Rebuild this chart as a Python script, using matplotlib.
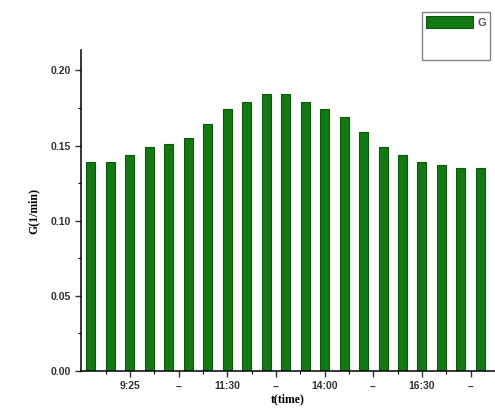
import numpy as np
import matplotlib
matplotlib.use('Agg')
from matplotlib import pyplot as plt
from matplotlib.ticker import MultipleLocator, FormatStrFormatter
from matplotlib.patches import Patch

# valores
G = [0.139, 0.139, 0.144, 0.149, 0.151, 0.155, 0.164, 0.174, 0.179, 0.184, 0.184,
     0.179, 0.174, 0.169, 0.159, 0.149, 0.144, 0.139, 0.137, 0.135, 0.135]
tick_pos = [2, 4.5, 7, 9.5, 12, 14.5, 17, 19.5]
tick_lab = ['9:25', '--', '11:30', '--', '14:00', '--', '16:30', '--']

x = np.arange(len(G))

fig = plt.figure(figsize=(4.95, 4.12), dpi=100)
ax = fig.add_axes([0.164, 0.0995, 0.836, 0.779])
bars = ax.bar(x, G, width=0.46, color='#137a13', edgecolor='#0d560d', linewidth=0.8, label='G')

ax.set_xlim(-0.5, 20.2)
ax.set_ylim(0, 0.2135)
ax.yaxis.set_major_locator(MultipleLocator(0.05))
ax.yaxis.set_minor_locator(MultipleLocator(0.025))
ax.yaxis.set_major_formatter(FormatStrFormatter('%.2f'))
ax.set_xticks(tick_pos)
ax.set_xticklabels(tick_lab)
ax.set_xticks([t - 1.25 for t in tick_pos] + [20.75], minor=True)
ax.tick_params(axis='both', which='major', direction='out', length=4, width=1,
               labelsize=7.5, colors='#333333')
ax.tick_params(axis='both', which='minor', direction='out', length=2.5, width=0.8)
for lab in ax.get_xticklabels() + ax.get_yticklabels():
    lab.set_fontweight('bold')
    lab.set_family('Liberation Sans')

ax.spines['top'].set_visible(False)
ax.spines['right'].set_visible(False)
ax.spines['left'].set_linewidth(1.1)
ax.spines['bottom'].set_linewidth(1.1)

ax.set_ylabel('G(1/min)', family='Liberation Serif', fontweight='bold', fontsize=8.5, labelpad=8)
ax.set_xlabel('t(time)', family='Liberation Serif', fontweight='bold', fontsize=8.5, labelpad=1)

# segunda entrada vacia para que la caja quede alta como en el original
blank = Patch(facecolor='none', edgecolor='none')
leg = fig.legend([bars, blank], ['G', ' '], loc='upper right', bbox_to_anchor=(0.99, 0.97),
                 fontsize=8, handlelength=4.2, handleheight=1.2, borderpad=0.35,
                 fancybox=False, edgecolor='#666666', borderaxespad=0,
                 handletextpad=0.4, labelspacing=1.5)
leg.get_frame().set_linewidth(1.0)
for t in leg.get_texts():
    t.set_family('Liberation Sans')
    t.set_fontweight('bold')
    t.set_color('#555555')

fig.savefig('out.png', dpi=100)
